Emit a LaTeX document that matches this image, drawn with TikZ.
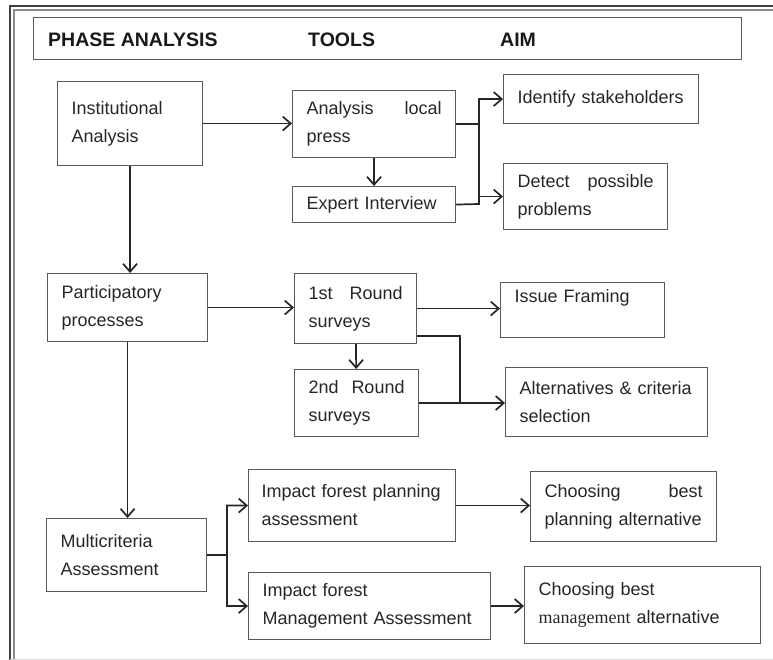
\documentclass[tikz,border=0pt]{standalone}
\usepackage{fontspec}
\setmainfont{Liberation Sans}
\newfontfamily\tnr{Liberation Serif}
\usetikzlibrary{arrows.meta}
\begin{document}
\begin{tikzpicture}[x=1pt,y=-1pt,>={Straight Barb[length=8pt,width=14pt]},
  font=\fontsize{18}{28}\selectfont,
  blk/.style={draw=black!65,line width=1.1pt,anchor=north west,align=left,inner xsep=14pt,inner ysep=2pt,text=black!85},
  hd/.style={anchor=west,inner sep=0pt,font=\fontsize{19.5}{22}\selectfont\bfseries,text=black!90},
  ln/.style={line width=1.7pt,black!85}]
\useasboundingbox (0,0) rectangle (773,660);
\draw[line width=1.8pt,black!75] (10,660)--(10,6)--(773,6);
\draw[line width=1.1pt,black!45] (14,660)--(14,10)--(773,10);
\draw[line width=1pt,black!15] (10,659)--(773,659);

\node[blk,minimum width=708pt,minimum height=42pt] (head) at (33,17) {};
\node[hd] (phase) at (48,40) {PHASE ANALYSIS};
\node[hd] (tools) at (308,40) {TOOLS};
\node[hd] (aim) at (500,40) {AIM};

\node[blk,minimum width=145pt,minimum height=84pt,text width=117pt] (inst) at (57,81) {Institutional\\Analysis};
\node[blk,minimum width=163pt,minimum height=67pt,text width=135pt] (press) at (292,90) {Analysis\hfill local\\press};
\node[blk,minimum width=163pt,minimum height=36pt,text width=135pt] (expert) at (292,186) {Expert Interview};
\node[blk,minimum width=195pt,minimum height=49pt,text width=167pt] (ident) at (503,74) {Identify stakeholders};
\node[blk,minimum width=164pt,minimum height=66pt,text width=136pt] (detect) at (503,163) {Detect\hfill possible\\problems};

\node[blk,minimum width=160pt,minimum height=68pt,text width=132pt] (part) at (47,273) {Participatory\\processes};
\node[blk,minimum width=122pt,minimum height=70pt,text width=94pt] (first) at (294,273) {1st\hfill Round\\surveys};
\node[blk,minimum width=124pt,minimum height=67pt,text width=96pt] (second) at (294,369) {2nd\hfill Round\\surveys};
\node[blk,minimum width=164pt,minimum height=55pt,text width=136pt] (issue) at (500,282) {Issue Framing\\~};
\node[blk,minimum width=202pt,minimum height=69pt,text width=174pt] (alt) at (505,367) {Alternatives \& criteria\\selection};

\node[blk,minimum width=160pt,minimum height=73pt,text width=132pt] (multi) at (46,518) {Multicriteria\\Assessment};
\node[blk,minimum width=207pt,minimum height=72pt,text width=181pt,inner xsep=13pt] (impplan) at (248,469) {Impact forest planning\\assessment};
\node[blk,minimum width=242pt,minimum height=67pt,text width=214pt] (impman) at (248,572) {Impact forest\\Management Assessment};
\node[blk,minimum width=186pt,minimum height=70pt,text width=158pt] (choplan) at (530,471) {Choosing\hfill best\\planning alternative};
\node[blk,minimum width=236pt,minimum height=77pt,text width=208pt] (choman) at (524,566) {Choosing best\\{\tnr management} alternative};

\coordinate (ja) at (479,204);
\coordinate (jb) at (460,336);
\coordinate (jc) at (227,555);

\draw[ln,->] (inst.east) -- (inst.east -| press.west);
\draw[ln,->] (press) -- (expert);
\draw[ln] (press.east) -- (press.east -| ja);
\draw[ln,->] (expert.east) -- (ja) |- (ident.west);
\draw[ln,->] (detect.west -| ja) -- (detect.west);
\draw[ln,->] (inst.south) -- (inst.south |- part.north);

\draw[ln,->] (part.east) -- (part.east -| first.west);
\draw[ln,->] (first.east) -- (first.east -| issue.west);
\draw[ln,->] (first) -- (second);
\draw[ln] (first.east |- jb) -- (jb) -- (jb |- alt.west);
\draw[ln,->] (second.east) -- (second.east -| alt.west);
\draw[ln,->] (part) -- (part |- multi.north);

\draw[ln,->] (multi.east) -- (jc) |- (impplan.west);
\draw[ln,->] (jc) |- (impman.west);
\draw[ln,->] (impplan.east) -- (impplan.east -| choplan.west);
\draw[ln,->] (impman.east) -- (impman.east -| choman.west);
\end{tikzpicture}
\end{document}
